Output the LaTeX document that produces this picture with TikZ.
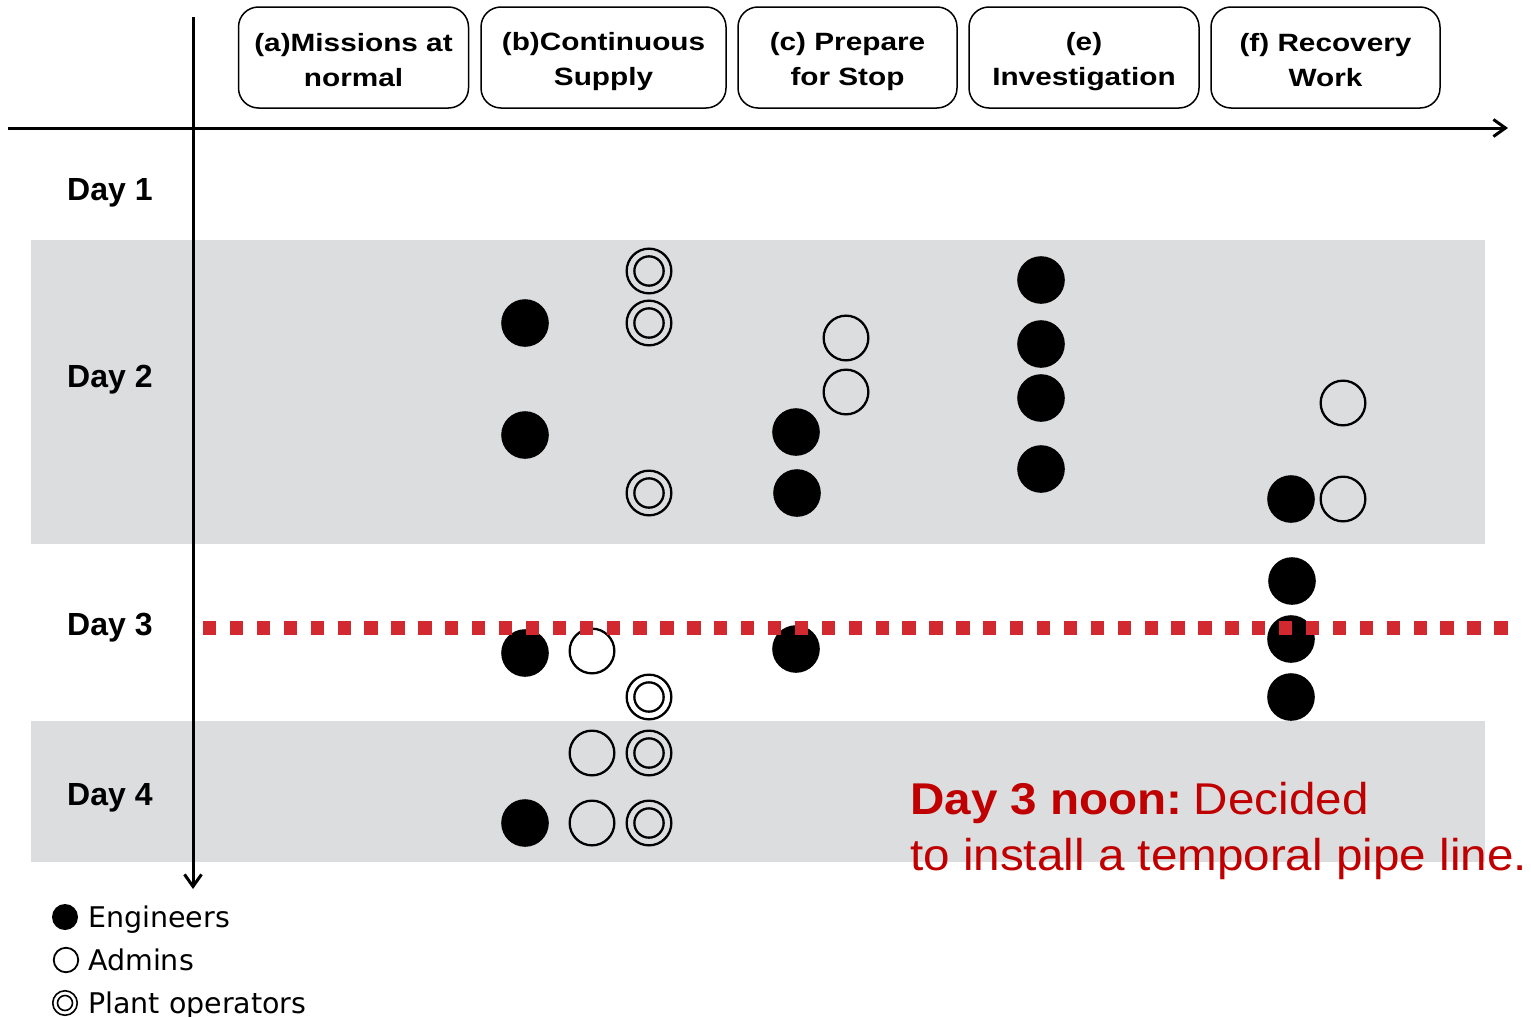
\documentclass[tikz,border=0pt]{standalone}
\usepackage{fontspec}
\setmainfont{Liberation Sans}
\newfontfamily\hdrfont[FakeStretch=1.19]{Liberation Sans}
\newfontfamily\redfont[FakeStretch=1.07]{Liberation Sans}
\newfontfamily\legfont{DejaVu Sans}
\usetikzlibrary{arrows.meta}
\definecolor{bandgray}{HTML}{DCDDDF}
\definecolor{dotred}{HTML}{D2282F}
\definecolor{notered}{HTML}{C00000}
\newcommand{\hstr}{\rule[-4pt]{0pt}{30pt}}
\tikzset{
  hdr/.style={draw, line width=1.5pt, rounded corners=20pt, minimum height=101pt,
    align=center, inner sep=0pt, font=\hdrfont\bfseries\fontsize{25}{35}\selectfont},
  daylbl/.style={anchor=base west, inner sep=0pt, font=\bfseries\fontsize{32}{36}\selectfont},
  eng/.style={circle, fill=black, minimum size=47.6pt, inner sep=0pt},
  adm/.style={circle, draw=black, line width=2.3pt, minimum size=44.7pt, inner sep=0pt},
  opr/.style={circle, draw=black, line width=2.3pt, minimum size=44.7pt, inner sep=0pt,
    path picture={\draw[line width=2.3pt] (path picture bounding box.center) circle (14.65pt);}},
  engl/.style={circle, fill=black, minimum size=26pt, inner sep=0pt},
  adml/.style={circle, draw=black, line width=1.8pt, minimum size=24.5pt, inner sep=0pt},
  oprl/.style={circle, draw=black, line width=1.6pt, minimum size=24.5pt, inner sep=0pt,
    path picture={\draw[line width=1.6pt] (path picture bounding box.center) circle (7.5pt);}},
  legtxt/.style={anchor=base west, inner sep=0pt, font=\legfont\fontsize{28.5}{30}\selectfont},
  note/.style={anchor=base west, inner sep=0pt, text=notered, font=\redfont\fontsize{44.5}{56}\selectfont},
  axis/.style={line width=3pt, -{Straight Barb[length=12pt,width=17pt]}},
  band/.style={fill=bandgray, draw=none},
  noonline/.style={draw=dotred, line width=13.3pt, dash pattern=on 13.3pt off 13.6pt, line cap=butt}
}
\begin{document}
\begin{tikzpicture}[x=1pt,y=-1pt]
\useasboundingbox[fill=white] (0,0) rectangle (1531,1017);

% bands
\path[band] (31,240) rectangle (1485,544);
\path[band] (31,721) rectangle (1485,862);

% axes
\coordinate (xs) at (8,128);
\coordinate (xe) at (1508,128);
\coordinate (ys) at (193,17);
\coordinate (ye) at (193,889);
\draw[axis] (xs) -- (xe);
\draw[axis] (ys) -- (ye);

% headers
\node[hdr, minimum width=230pt] (ha) at (353.5,57.5) {\hstr(a)Missions at\\\hstr normal};
\node[hdr, minimum width=245pt] (hb) at (603.5,57.5) {\hstr(b)Continuous\\\hstr Supply};
\node[hdr, minimum width=219pt] (hc) at (847.5,57.5) {\hstr(c) Prepare\\\hstr for Stop};
\node[hdr, minimum width=230pt] (he) at (1084,57.5) {\hstr(e)\\\hstr Investigation};
\node[hdr, minimum width=229pt] (hf) at (1325.5,57.5) {\hstr(f) Recovery\\\hstr Work};

% day labels
\node[daylbl] (day1) at (67,200) {Day 1};
\node[daylbl] (day2) at (67,387) {Day 2};
\node[daylbl] (day3) at (67,635) {Day 3};
\node[daylbl] (day4) at (67,805) {Day 4};

% Day 2 dots
\node[eng] (b1) at (525,323) {};
\node[eng] (b2) at (525,435) {};
\node[opr] (b3) at (649,271) {};
\node[opr] (b4) at (649,323) {};
\node[opr] (b5) at (649,493) {};
\node[adm] (c1) at (846,338) {};
\node[adm] (c2) at (846,392) {};
\node[eng] (c3) at (796,432) {};
\node[eng] (c4) at (797,493) {};
\node[eng] (e1) at (1041,280) {};
\node[eng] (e2) at (1041,344) {};
\node[eng] (e3) at (1041,398) {};
\node[eng] (e4) at (1041,469) {};
\node[adm] (f1) at (1343,403) {};
\node[adm] (f2) at (1343,499) {};
\node[eng] (f3) at (1291,499) {};

% Day 3 dots
\node[eng] (f4) at (1292,581) {};
\node[eng] (f5) at (1291,639) {};
\node[eng] (f6) at (1291,697) {};
\node[eng] (b6) at (525,653) {};
\node[adm] (b7) at (592,651) {};
\node[opr] (b8) at (649,697) {};
\node[eng] (c5) at (796,649) {};

% Day 4 dots
\node[adm] (b9) at (592,753) {};
\node[opr] (b10) at (649,753) {};
\node[eng] (b11) at (525,823) {};
\node[adm] (b12) at (592,823) {};
\node[opr] (b13) at (649,823) {};

% noon line
\coordinate (rl) at (203,628);
\coordinate (rr) at (1508,628);
\draw[noonline] (rl) -- (rr);

% note
\node[note] (n1) at (910,814) {{\bfseries Day 3 noon:}\hspace{0.25em}Decided};
\node[note] (n2) at (910,870) {to install a temporal pipe line.};

% legend
\node[engl] (le) at (65,917) {};
\node[adml] (la) at (66,960) {};
\node[oprl] (lo) at (65,1003) {};
\node[legtxt] (lte) at (88,927) {Engineers};
\node[legtxt] (lta) at (88,970) {Admins};
\node[legtxt] (lto) at (88,1013) {Plant operators};
\end{tikzpicture}
\end{document}
